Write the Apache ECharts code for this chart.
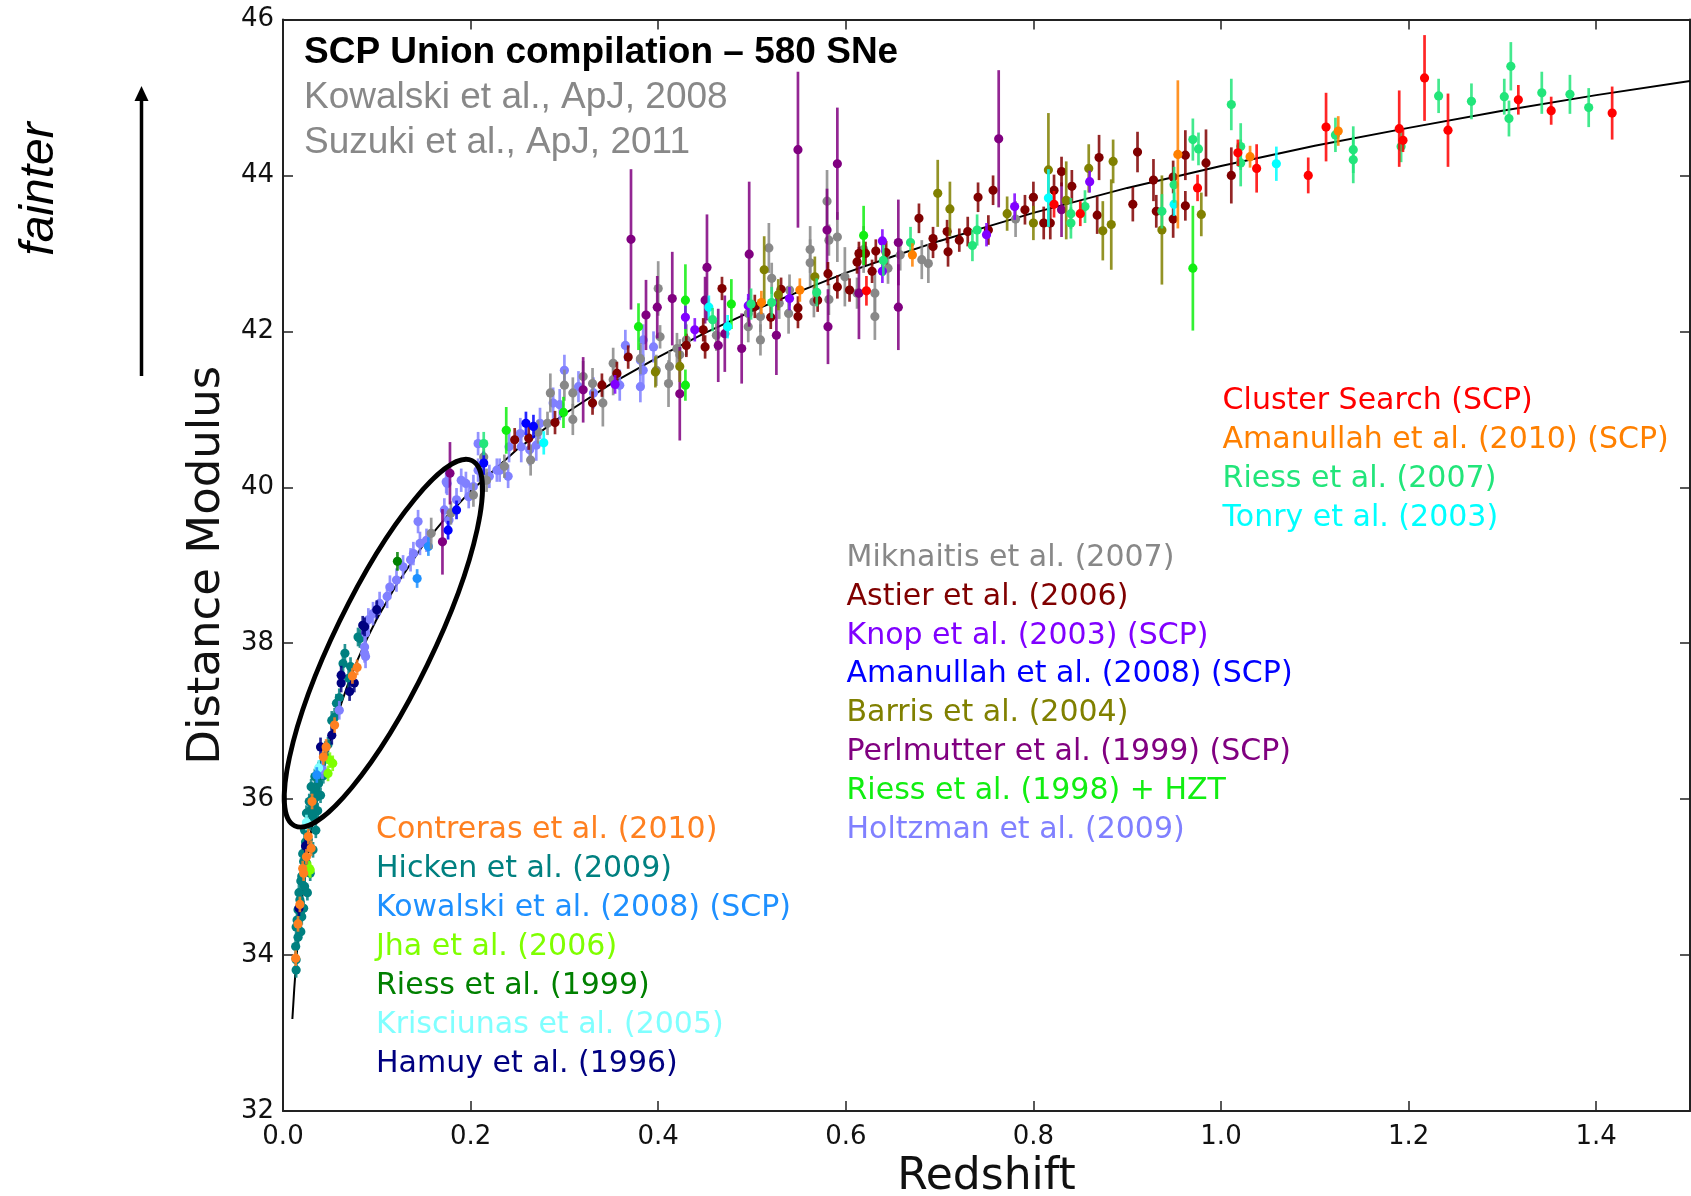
<!DOCTYPE html>
<html><head><meta charset="utf-8">
<script src="https://cdn.jsdelivr.net/npm/echarts@6/dist/echarts.min.js"></script>
<style>html,body{margin:0;padding:0;background:#fff}#chart{width:1691px;height:1196px}</style>
</head><body><div id="chart"></div>
<script>
// ---------------- data (z, distance modulus, error) ----------------
const xTickValues = [0.0, 0.2, 0.4, 0.6, 0.8, 1.0, 1.2, 1.4];
const yTickValues = [32, 34, 36, 38, 40, 42, 44, 46];

const curveZ  = [0.01,0.012,0.015,0.02,0.03,0.04,0.05,0.06,0.07,0.08,0.09,0.1,0.12,0.15,0.175,0.2,0.25,0.3,0.35,0.4,0.45,0.5,0.55,0.6,0.65,0.7,0.75,0.8,0.9,1.0,1.1,1.2,1.3,1.4,1.5];
const curveMu = [33.18,33.57,34.06,34.70,35.59,36.24,36.74,37.15,37.50,37.80,38.07,38.31,38.73,39.27,39.63,39.95,40.49,40.94,41.33,41.67,41.98,42.26,42.51,42.75,42.96,43.16,43.34,43.52,43.84,44.12,44.38,44.61,44.83,45.03,45.21];

const hicken = [[0.082,38.06,0.12],[0.080,38.08,0.12],[0.066,37.87,0.12],[0.064,37.74,0.12],[0.057,37.23,0.12],[0.052,37.01,0.12],[0.060,37.30,0.12],[0.070,37.55,0.12],[0.048,36.70,0.1],[0.045,36.55,0.1],[0.041,36.45,0.1],[0.038,36.20,0.1],[0.035,36.10,0.1],[0.034,36.29,0.1],[0.030,36.16,0.1],[0.036,36.03,0.1],[0.031,36.00,0.1],[0.028,35.97,0.1],[0.029,35.85,0.1],[0.025,35.82,0.1],[0.032,35.77,0.1],[0.033,35.90,0.1],[0.026,35.65,0.1],[0.023,35.60,0.1],[0.027,35.48,0.1],[0.024,35.45,0.1],[0.021,35.30,0.1],[0.022,35.20,0.1],[0.025,35.18,0.1],[0.020,35.01,0.1],[0.019,34.95,0.1],[0.023,34.88,0.1],[0.017,34.80,0.1],[0.018,34.71,0.1],[0.016,34.58,0.1],[0.020,34.49,0.1],[0.015,34.45,0.1],[0.014,34.36,0.1],[0.016,34.23,0.1],[0.0135,34.11,0.1],[0.014,33.94,0.1],[0.014,33.81,0.1],[0.037,35.85,0.1],[0.035,35.60,0.1],[0.032,35.35,0.1],[0.029,35.05,0.1],[0.026,34.80,0.1],[0.040,36.05,0.1],[0.043,36.30,0.1],[0.022,34.60,0.1],[0.019,34.30,0.1],[0.055,37.05,0.12],[0.072,37.70,0.12]];
const holtzman = [[0.395,41.80,0.2],[0.381,41.63,0.2],[0.381,41.29,0.2],[0.384,41.89,0.2],[0.384,41.50,0.2],[0.365,41.82,0.2],[0.359,41.31,0.2],[0.331,41.21,0.2],[0.315,41.29,0.2],[0.300,41.50,0.2],[0.288,41.08,0.2],[0.295,41.06,0.2],[0.274,40.82,0.2],[0.270,40.54,0.2],[0.254,40.52,0.2],[0.253,40.69,0.2],[0.263,40.48,0.2],[0.241,40.52,0.2],[0.231,40.22,0.15],[0.228,40.22,0.15],[0.240,40.14,0.15],[0.208,40.56,0.15],[0.208,40.22,0.15],[0.220,40.14,0.15],[0.195,40.05,0.15],[0.174,40.07,0.15],[0.175,40.05,0.15],[0.190,40.09,0.15],[0.203,40.01,0.15],[0.198,39.88,0.15],[0.185,39.84,0.15],[0.177,39.58,0.15],[0.172,39.71,0.15],[0.144,39.56,0.15],[0.146,39.28,0.15],[0.153,39.32,0.15],[0.139,39.15,0.15],[0.136,39.07,0.15],[0.128,38.98,0.15],[0.121,38.81,0.15],[0.114,38.72,0.15],[0.111,38.60,0.15],[0.103,38.51,0.15],[0.096,38.38,0.15],[0.091,38.30,0.15],[0.088,38.13,0.15],[0.087,37.95,0.15],[0.088,37.83,0.15],[0.087,37.87,0.12],[0.060,37.14,0.12],[0.042,36.38,0.12]];
const jha = [[0.053,36.46,0.1],[0.048,36.33,0.1],[0.028,35.11,0.1],[0.029,35.09,0.1],[0.050,36.50,0.1]];
const krisciunas = [[0.025,35.70,0.1],[0.038,36.40,0.1]];
const riess1999 = [[0.122,39.05,0.12]];
const hamuy = [[0.100,38.43,0.12],[0.087,38.21,0.12],[0.085,38.23,0.12],[0.062,37.49,0.12],[0.076,37.49,0.12],[0.071,37.38,0.12],[0.062,37.59,0.12],[0.052,36.82,0.12],[0.040,36.67,0.12],[0.024,35.40,0.1],[0.017,34.60,0.1]];
const kowalski = [[0.155,39.24,0.12],[0.143,38.83,0.12],[0.036,36.31,0.1]];
const contreras = [[0.079,37.69,0.1],[0.074,37.58,0.1],[0.055,36.95,0.1],[0.046,36.67,0.1],[0.043,36.54,0.1],[0.031,35.97,0.1],[0.027,35.52,0.1],[0.030,35.37,0.1],[0.025,35.26,0.1],[0.021,35.11,0.1],[0.022,35.05,0.1],[0.018,34.65,0.1],[0.016,34.40,0.1],[0.0135,33.96,0.1]];
const miknaitis = [[0.400,42.55,0.35],[0.430,41.89,0.2],[0.423,41.70,0.2],[0.411,41.33,0.3],[0.412,41.55,0.2],[0.398,41.50,0.2],[0.420,41.78,0.2],[0.402,41.93,0.15],[0.381,41.65,0.2],[0.352,41.59,0.2],[0.352,41.38,0.2],[0.341,41.08,0.3],[0.330,41.33,0.2],[0.320,41.42,0.2],[0.309,41.21,0.2],[0.309,40.87,0.2],[0.300,41.31,0.2],[0.285,41.21,0.25],[0.282,40.82,0.15],[0.272,40.71,0.15],[0.264,40.35,0.2],[0.236,40.27,0.15],[0.214,40.39,0.15],[0.217,40.09,0.15],[0.203,39.90,0.15],[0.179,39.67,0.15],[0.158,39.41,0.2],[0.214,40.09,0.15],[0.462,41.95,0.2],[0.496,42.23,0.2],[0.496,42.06,0.2],[0.509,42.19,0.2],[0.509,41.89,0.2],[0.518,43.07,0.32],[0.521,42.68,0.2],[0.529,42.36,0.2],[0.540,42.53,0.2],[0.539,42.23,0.26],[0.562,43.05,0.3],[0.562,42.88,0.3],[0.566,42.38,0.2],[0.580,43.67,0.4],[0.582,43.17,0.2],[0.582,42.41,0.2],[0.591,43.21,0.32],[0.599,42.70,0.38],[0.612,42.49,0.2],[0.619,43.05,0.3],[0.631,42.49,0.3],[0.631,42.19,0.3],[0.645,42.81,0.2],[0.658,42.98,0.2],[0.681,42.92,0.25],[0.688,42.87,0.25],[0.781,43.44,0.23]];
const astier = [[0.368,41.67,0.15],[0.356,41.46,0.15],[0.340,41.31,0.15],[0.330,41.08,0.15],[0.290,40.83,0.15],[0.262,40.63,0.15],[0.247,40.61,0.15],[0.430,41.82,0.15],[0.448,42.02,0.15],[0.468,42.55,0.15],[0.450,41.80,0.15],[0.503,42.32,0.15],[0.520,42.18,0.15],[0.531,42.54,0.15],[0.549,42.30,0.15],[0.549,42.19,0.15],[0.570,42.40,0.15],[0.581,42.74,0.15],[0.591,42.57,0.15],[0.604,42.53,0.15],[0.612,42.89,0.15],[0.614,43.00,0.15],[0.621,43.00,0.15],[0.628,42.77,0.15],[0.632,43.03,0.15],[0.643,43.01,0.15],[0.678,43.45,0.19],[0.693,43.19,0.15],[0.693,43.09,0.15],[0.708,43.28,0.15],[0.709,43.02,0.19],[0.721,43.17,0.15],[0.730,43.28,0.19],[0.741,43.72,0.19],[0.752,43.30,0.19],[0.757,43.81,0.19],[0.791,43.56,0.19],[0.800,43.72,0.2],[0.811,43.39,0.21],[0.818,43.39,0.21],[0.822,43.81,0.2],[0.830,44.05,0.19],[0.841,43.86,0.21],[0.868,43.49,0.24],[0.870,44.23,0.29],[0.906,43.63,0.22],[0.911,44.30,0.26],[0.928,43.94,0.27],[0.931,43.54,0.21],[0.949,43.98,0.21],[0.949,43.44,0.24],[0.962,44.26,0.32],[0.962,43.61,0.19],[0.984,44.16,0.43],[1.011,44.00,0.36]];
const barris = [[0.423,41.55,0.2],[0.397,41.48,0.2],[0.513,42.79,0.43],[0.528,42.47,0.2],[0.567,42.70,0.26],[0.698,43.77,0.43],[0.711,43.57,0.35],[0.772,43.51,0.22],[0.800,43.39,0.22],[0.816,44.07,0.73],[0.835,43.68,0.5],[0.859,44.09,0.31],[0.874,43.29,0.38],[0.883,43.37,0.58],[0.885,44.18,0.28],[0.937,43.30,0.7],[0.979,43.50,0.28]];
const perlmutter = [[0.178,40.18,0.4],[0.170,39.30,0.42],[0.320,41.25,0.42],[0.371,43.18,0.9],[0.387,42.21,0.45],[0.399,42.31,0.4],[0.415,42.42,0.6],[0.423,41.20,0.6],[0.452,42.82,0.68],[0.464,41.82,0.47],[0.471,41.97,0.49],[0.450,42.40,0.3],[0.489,41.78,0.45],[0.497,42.99,0.93],[0.526,41.95,0.51],[0.549,44.33,1.0],[0.580,43.30,0.53],[0.581,42.06,0.48],[0.591,44.15,0.72],[0.614,42.49,0.59],[0.656,43.14,0.55],[0.656,42.31,0.55],[0.763,44.47,0.88],[0.830,43.56,0.35]];
const riess1998 = [[0.379,42.06,0.3],[0.429,42.40,0.46],[0.429,41.31,0.2],[0.478,42.35,0.32],[0.299,40.96,0.2],[0.238,40.73,0.3],[0.619,43.23,0.38],[0.970,42.81,0.8]];
const knop = [[0.354,41.32,0.12],[0.429,42.18,0.15],[0.439,42.02,0.15],[0.496,42.33,0.15],[0.540,42.42,0.15],[0.639,43.16,0.15],[0.639,42.77,0.15],[0.750,43.24,0.15],[0.780,43.60,0.17],[0.860,43.92,0.14]];
const amanullah2008 = [[0.259,40.82,0.15],[0.267,40.78,0.15],[0.214,40.31,0.15],[0.185,39.71,0.12],[0.176,39.45,0.12]];
const tonry = [[0.278,40.57,0.15],[0.454,42.31,0.15],[0.474,42.06,0.15],[0.816,43.71,0.37],[0.950,43.63,0.15],[1.059,44.15,0.22]];
const riess2007 = [[0.214,40.56,0.15],[0.458,42.15,0.15],[0.499,42.35,0.2],[0.521,42.37,0.2],[0.569,42.50,0.18],[0.640,42.91,0.2],[0.669,43.14,0.2],[0.735,43.10,0.2],[0.740,43.30,0.2],[0.840,43.51,0.2],[0.840,43.39,0.2],[0.855,43.60,0.21],[0.937,43.54,0.22],[0.950,43.88,0.23],[0.970,44.46,0.27],[0.976,44.34,0.21],[1.011,44.91,0.33],[1.021,44.37,0.3],[1.021,44.16,0.3],[1.122,44.52,0.22],[1.141,44.33,0.3],[1.141,44.20,0.3],[1.192,44.37,0.2],[1.232,45.02,0.22],[1.267,44.95,0.23],[1.302,45.01,0.23],[1.309,45.40,0.31],[1.307,44.73,0.23],[1.342,45.06,0.27],[1.372,45.04,0.25],[1.392,44.87,0.25]];
const amanullah2010 = [[0.510,42.37,0.15],[0.551,42.53,0.15],[0.671,42.98,0.15],[0.954,44.27,0.95],[1.031,44.24,0.14],[1.125,44.57,0.19]];
const clusterSearch = [[0.622,42.52,0.19],[0.822,43.63,0.17],[0.850,43.51,0.16],[0.975,43.84,0.17],[1.018,44.29,0.17],[1.038,44.09,0.31],[1.093,44.00,0.23],[1.112,44.62,0.44],[1.190,44.60,0.49],[1.194,44.45,0.15],[1.217,45.25,0.55],[1.242,44.58,0.47],[1.317,44.97,0.19],[1.352,44.83,0.18],[1.417,44.80,0.34]];

const legendRight = ['Cluster Search (SCP)','Amanullah et al. (2010) (SCP)','Riess et al. (2007)','Tonry et al. (2003)'];
const legendMid = ['Miknaitis et al. (2007)','Astier et al. (2006)','Knop et al. (2003) (SCP)','Amanullah et al. (2008) (SCP)','Barris et al. (2004)','Perlmutter et al. (1999) (SCP)','Riess et al. (1998) + HZT','Holtzman et al. (2009)'];
const legendLeft = ['Contreras et al. (2010)','Hicken et al. (2009)','Kowalski et al. (2008) (SCP)','Jha et al. (2006)','Riess et al. (1999)','Krisciunas et al. (2005)','Hamuy et al. (1996)'];

// ---------------- styling ----------------
const sets = [
  ['Hicken et al. (2009)', hicken, '#008080'],
  ['Holtzman et al. (2009)', holtzman, '#8080ff'],
  ['Jha et al. (2006)', jha, '#7fff00'],
  ['Krisciunas et al. (2005)', krisciunas, '#80ffff'],
  ['Riess et al. (1999)', riess1999, '#008000'],
  ['Hamuy et al. (1996)', hamuy, '#000080'],
  ['Kowalski et al. (2008) (SCP)', kowalski, '#1e90ff'],
  ['Contreras et al. (2010)', contreras, '#ff8020'],
  ['Miknaitis et al. (2007)', miknaitis, '#888888'],
  ['Perlmutter et al. (1999) (SCP)', perlmutter, '#800080'],
  ['Astier et al. (2006)', astier, '#800000'],
  ['Barris et al. (2004)', barris, '#808000'],
  ['Riess et al. (1998) + HZT', riess1998, '#11ee11'],
  ['Knop et al. (2003) (SCP)', knop, '#8000ff'],
  ['Amanullah et al. (2008) (SCP)', amanullah2008, '#0000ff'],
  ['Tonry et al. (2003)', tonry, '#00ffff'],
  ['Riess et al. (2007)', riess2007, '#22e57a'],
  ['Amanullah et al. (2010) (SCP)', amanullah2010, '#ff8000'],
  ['Cluster Search (SCP)', clusterSearch, '#ff0000']
];
const colorOf = {};
sets.forEach(s => colorOf[s[0]] = s[2]);

function makeRender(color) {
  return function (params, api) {
    const z = api.value(0), mu = api.value(1), e = api.value(2);
    const c = api.coord([z, mu]);
    const t = api.coord([z, mu + e]);
    const b = api.coord([z, mu - e]);
    return {
      type: 'group',
      children: [
        { type: 'line', shape: { x1: c[0], y1: t[1], x2: c[0], y2: b[1] },
          style: { stroke: color, lineWidth: 2.7, opacity: 0.85 } },
        { type: 'circle', shape: { cx: c[0], cy: c[1], r: 4.6 }, style: { fill: color } }
      ]
    };
  };
}

const series = [{
  type: 'line', name: 'model', data: curveZ.map((z, i) => [z, curveMu[i]]),
  showSymbol: false, symbol: 'none', smooth: false,
  lineStyle: { color: '#000', width: 2 }, z: 1, silent: true
}];
sets.forEach(s => series.push({
  type: 'custom', name: s[0], data: s[1], renderItem: makeRender(s[2]),
  encode: { x: 0, y: 1 }, z: 2, itemStyle: { color: s[2] }
}));

function legendBlock(names, left, top) {
  return {
    orient: 'vertical', left: left, top: top, padding: 0, itemGap: 0,
    icon: 'none', itemWidth: 2, itemHeight: 2,
    textStyle: { fontFamily: 'DejaVu Sans', fontSize: 30, lineHeight: 38.9 },
    data: names.map(n => ({ name: n, textStyle: { color: colorOf[n] } }))
  };
}

const tickFont = { fontFamily: 'DejaVu Sans', fontSize: 26, color: '#111' };
const axisLineStyle = { color: '#222', width: 2 };

const chart = echarts.init(document.getElementById('chart'), null, { renderer: 'canvas' });
chart.setOption({
  animation: false,
  backgroundColor: '#fff',
  title: {
    left: 304, top: 30, padding: 0, itemGap: 0,
    text: 'SCP Union compilation – 580 SNe',
    subtext: 'Kowalski et al., ApJ, 2008\nSuzuki et al., ApJ, 2011',
    textStyle: { fontFamily: 'Liberation Sans', fontWeight: 'bold', fontSize: 37, lineHeight: 45, color: '#000' },
    subtextStyle: { fontFamily: 'Liberation Sans', fontSize: 37, lineHeight: 45, color: '#888888' }
  },
  legend: [
    legendBlock(legendRight, 1215.6, 382),
    legendBlock(legendMid, 839.5, 538.5),
    legendBlock(legendLeft, 369, 811)
  ],
  grid: { left: 283, right: 1, top: 19.5, bottom: 85, containLabel: false, outerBoundsMode: 'none' },
  xAxis: [{
    type: 'value', min: 0, max: 1.5, interval: 0.2,
    name: 'Redshift', nameLocation: 'middle', nameGap: 45,
    nameTextStyle: { fontFamily: 'DejaVu Sans', fontSize: 44, color: '#111' },
    axisLine: { show: true, onZero: false, lineStyle: axisLineStyle },
    axisTick: { show: true, inside: true, length: 10, lineStyle: { color: '#222', width: 1.5 } },
    axisLabel: Object.assign({ margin: 13, showMaxLabel: false, formatter: v => v.toFixed(1) }, tickFont),
    splitLine: { show: false }
  }, {
    type: 'value', position: 'top', min: 0, max: 1.5, interval: 0.2,
    axisLine: { show: true, onZero: false, lineStyle: axisLineStyle },
    axisTick: { show: true, inside: true, length: 10, lineStyle: { color: '#222', width: 1.5 } },
    axisLabel: { show: false }, splitLine: { show: false }
  }],
  yAxis: [{
    type: 'value', min: 32, max: 46, interval: 2,
    name: 'Distance Modulus', nameLocation: 'middle', nameGap: 46,
    nameTextStyle: { fontFamily: 'DejaVu Sans', fontSize: 45, color: '#111' },
    axisLine: { show: true, onZero: false, lineStyle: axisLineStyle },
    axisTick: { show: true, inside: true, length: 10, lineStyle: { color: '#222', width: 1.5 } },
    axisLabel: Object.assign({ margin: 9, formatter: v => String(v) }, tickFont),
    splitLine: { show: false }
  }, {
    type: 'value', position: 'right', min: 32, max: 46, interval: 2,
    axisLine: { show: true, onZero: false, lineStyle: axisLineStyle },
    axisTick: { show: true, inside: true, length: 10, lineStyle: { color: '#222', width: 1.5 } },
    axisLabel: { show: false }, splitLine: { show: false }
  }],
  series: series
});

// ---------------- annotations ----------------
const ellipseCenter = chart.convertToPixel({ xAxisIndex: 0, yAxisIndex: 0 }, [0.107, 38.0]);
chart.setOption({
  graphic: [
    { type: 'ellipse', x: ellipseCenter[0], y: ellipseCenter[1], rotation: 64.1 * Math.PI / 180,
      shape: { cx: 0, cy: 0, rx: 203, ry: 49 }, z: 10,
      style: { fill: 'none', stroke: '#000', lineWidth: 4.8 } },
    { type: 'line', shape: { x1: 141.5, y1: 376, x2: 141.5, y2: 98 },
      style: { stroke: '#000', lineWidth: 3.5 } },
    { type: 'polygon', shape: { points: [[141.5, 86], [134.5, 101], [148.5, 101]] },
      style: { fill: '#000' } },
    { type: 'text', x: 39.5, y: 189, rotation: Math.PI / 2,
      style: { text: 'fainter', fontFamily: 'Liberation Sans', fontStyle: 'italic', fontSize: 48,
               fill: '#000', align: 'center', verticalAlign: 'middle' } }
  ]
});
</script>
</body></html>
